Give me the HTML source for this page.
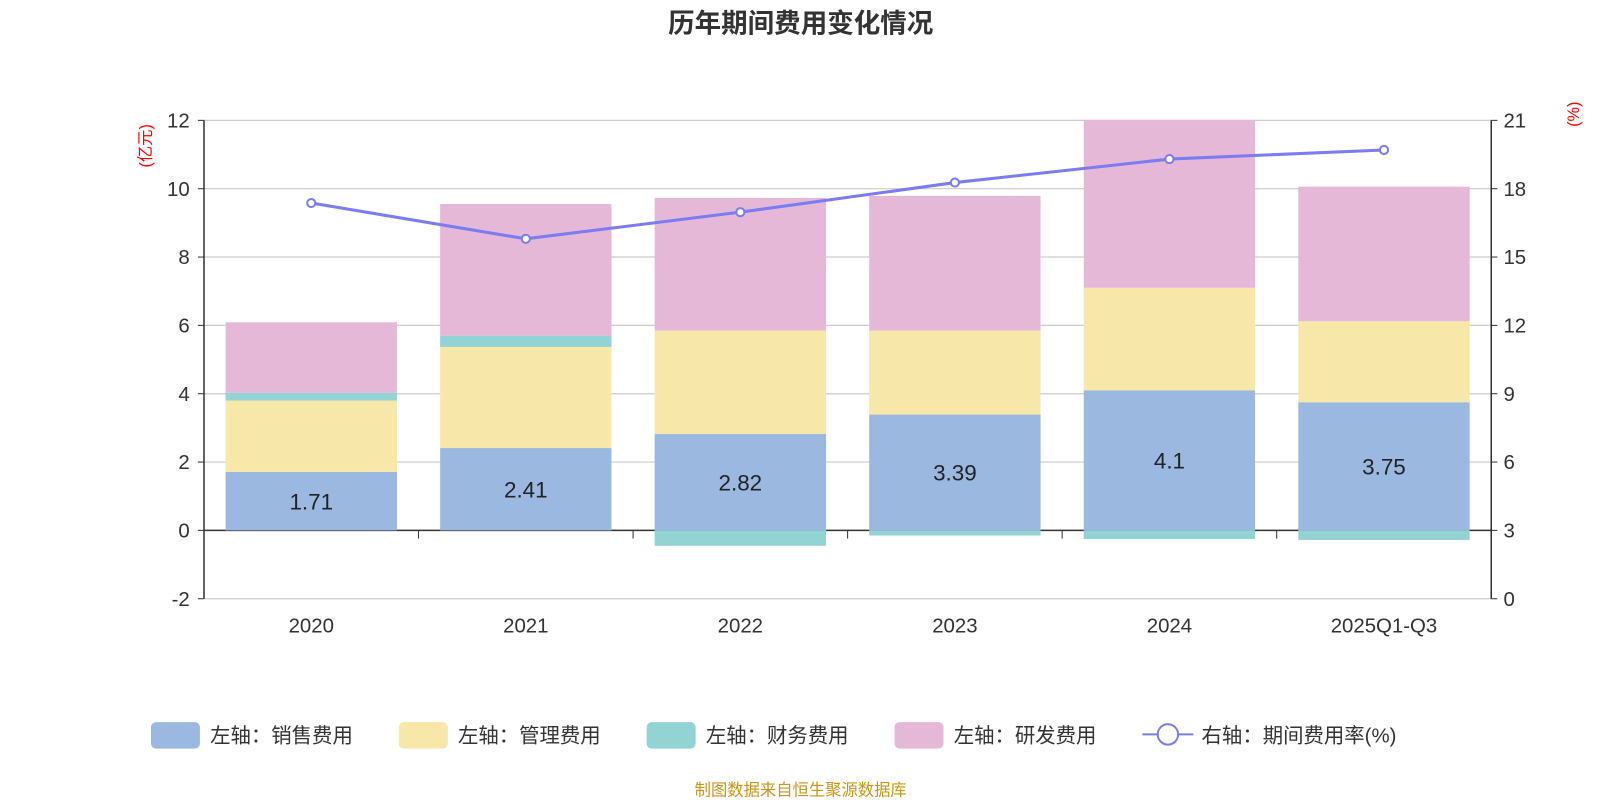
<!DOCTYPE html>
<html><head><meta charset="utf-8"><style>
body{margin:0;background:#fff;}
svg text{font-family:"Liberation Sans","Noto Sans CJK SC",sans-serif;}
</style></head><body>
<svg id="chart" width="1600" height="800">
<g transform="scale(1.02)">
<text x="785" y="32" text-anchor="middle" font-size="26" font-weight="bold" fill="#333">历年期间费用变化情况</text>
<text x="0" y="0" font-size="16" fill="#f00" transform="translate(148,143) rotate(-90)" text-anchor="middle">(亿元)</text>
<text x="0" y="0" font-size="16" fill="#f00" transform="translate(1548,112) rotate(-90)" text-anchor="middle">(%)</text>
<g id="grid"></g><g id="bars"></g><g id="axes"></g><g id="line"></g>
<g id="legend">
<rect x="148" y="708" width="48" height="26" rx="5" fill="#9bb8e0"/>
<text x="206" y="728" font-size="20" fill="#333">左轴：销售费用</text>
<rect x="391" y="708" width="48" height="26" rx="5" fill="#f7e7a9"/>
<text x="449" y="728" font-size="20" fill="#333">左轴：管理费用</text>
<rect x="634" y="708" width="48" height="26" rx="5" fill="#94d3d4"/>
<text x="692" y="728" font-size="20" fill="#333">左轴：财务费用</text>
<rect x="877" y="708" width="48" height="26" rx="5" fill="#e6b8d8"/>
<text x="935" y="728" font-size="20" fill="#333">左轴：研发费用</text>
<line x1="1120" y1="720" x2="1170" y2="720" stroke="#7a7cf0" stroke-width="2"/>
<circle cx="1145" cy="720" r="10" fill="#fff" stroke="#7a7cf0" stroke-width="2"/>
<text x="1178" y="728" font-size="20" fill="#333">右轴：期间费用率(%)</text>
</g>
<text x="785" y="780" text-anchor="middle" font-size="16" fill="#c8941a">制图数据来自恒生聚源数据库</text>
</g>
</svg>
<script>
const categories=["2020","2021","2022","2023","2024","2025Q1-Q3"];
const sales=[1.71,2.41,2.82,3.39,4.1,3.75];
const admin=[2.09,2.96,3.03,2.46,3.0,2.37];
const finance=[0.23,0.33,-0.45,-0.15,-0.25,-0.28];
const rd=[2.06,3.85,3.88,3.94,4.9,3.94];
const rate=[17.37,15.8,16.97,18.27,19.3,19.7];
const leftTicks=[-2,0,2,4,6,8,10,12];
const rightTicks=[0,3,6,9,12,15,18,21];
const NS="http://www.w3.org/2000/svg";
const X0=200,X1=1462,bw=168;
const yL=v=>520-v*33.5;
const yR=v=>587-v*(469/21);
const step=(X1-X0)/categories.length;
const xc=i=>X0+step*(i+0.5);
function mk(t,a,p){const e=document.createElementNS(NS,t);for(const k in a)e.setAttribute(k,a[k]);p.appendChild(e);return e;}
const G=document.getElementById('grid'),B=document.getElementById('bars'),A=document.getElementById('axes'),L=document.getElementById('line');
leftTicks.forEach(v=>{
 const l=mk('line',{x1:X0,x2:X1,y1:yL(v),y2:yL(v),stroke:v===0?'#333':'#ccc','stroke-width':v===0?1.5:1.2},G);
 
 
 const t=mk('text',{x:X0-14,y:yL(v)+7,'text-anchor':'end','font-size':20,fill:'#333'},A);t.textContent=v;
 
 
 mk('line',{x1:X0-6,x2:X0,y1:yL(v),y2:yL(v),stroke:'#333'},A);
});
rightTicks.forEach(v=>{
 const t=mk('text',{x:X1+12,y:yR(v)+7,'font-size':20,fill:'#333'},A);t.textContent=v;
 
 
 mk('line',{x1:X1,x2:X1+6,y1:yR(v),y2:yR(v),stroke:'#333'},A);
});
mk('line',{x1:X0,x2:X0,y1:yL(12),y2:yL(-2),stroke:'#333','stroke-width':1.5},A);
mk('line',{x1:X1,x2:X1,y1:yR(21),y2:yR(0),stroke:'#333','stroke-width':1.5},A);
for(let i=1;i<categories.length;i++)mk('line',{x1:X0+step*i,x2:X0+step*i,y1:520,y2:528,stroke:'#333'},A);
categories.forEach((c,i)=>{
 const t=mk('text',{x:xc(i),y:620,'text-anchor':'middle','font-size':20,fill:'#333'},A);t.textContent=c;
 
 
 let pos=0,neg=0;
 const segs=[[sales[i],'#9bb8e0','bar-sales'],[admin[i],'#f7e7a9','bar-admin'],[finance[i],'#94d3d4','bar-finance'],[rd[i],'#e6b8d8','bar-rd']];
 segs.forEach(([v,col,nm])=>{
  let a,b;
  if(v>=0){a=pos;b=pos+v;pos=b;}else{a=neg;b=neg+v;neg=b;}
  const r=mk('rect',{x:xc(i)-bw/2,y:Math.min(yL(a),yL(b)),width:bw,height:Math.abs(yL(a)-yL(b)),fill:col},B);
  
  
 });
 const lt=mk('text',{x:xc(i),y:yL(sales[i]/2)+8,'text-anchor':'middle','font-size':22,fill:'#222'},B);lt.textContent=sales[i];
 
 
});
const pl=mk('polyline',{points:rate.map((v,i)=>xc(i)+','+yR(v)).join(' '),fill:'none',stroke:'#7a7cf0','stroke-width':3},L);


rate.forEach((v,i)=>{
 const c=mk('circle',{cx:xc(i),cy:yR(v),r:4,fill:'#fff',stroke:'#7a7cf0','stroke-width':2},L);
 
 
});
</script>
</body></html>
